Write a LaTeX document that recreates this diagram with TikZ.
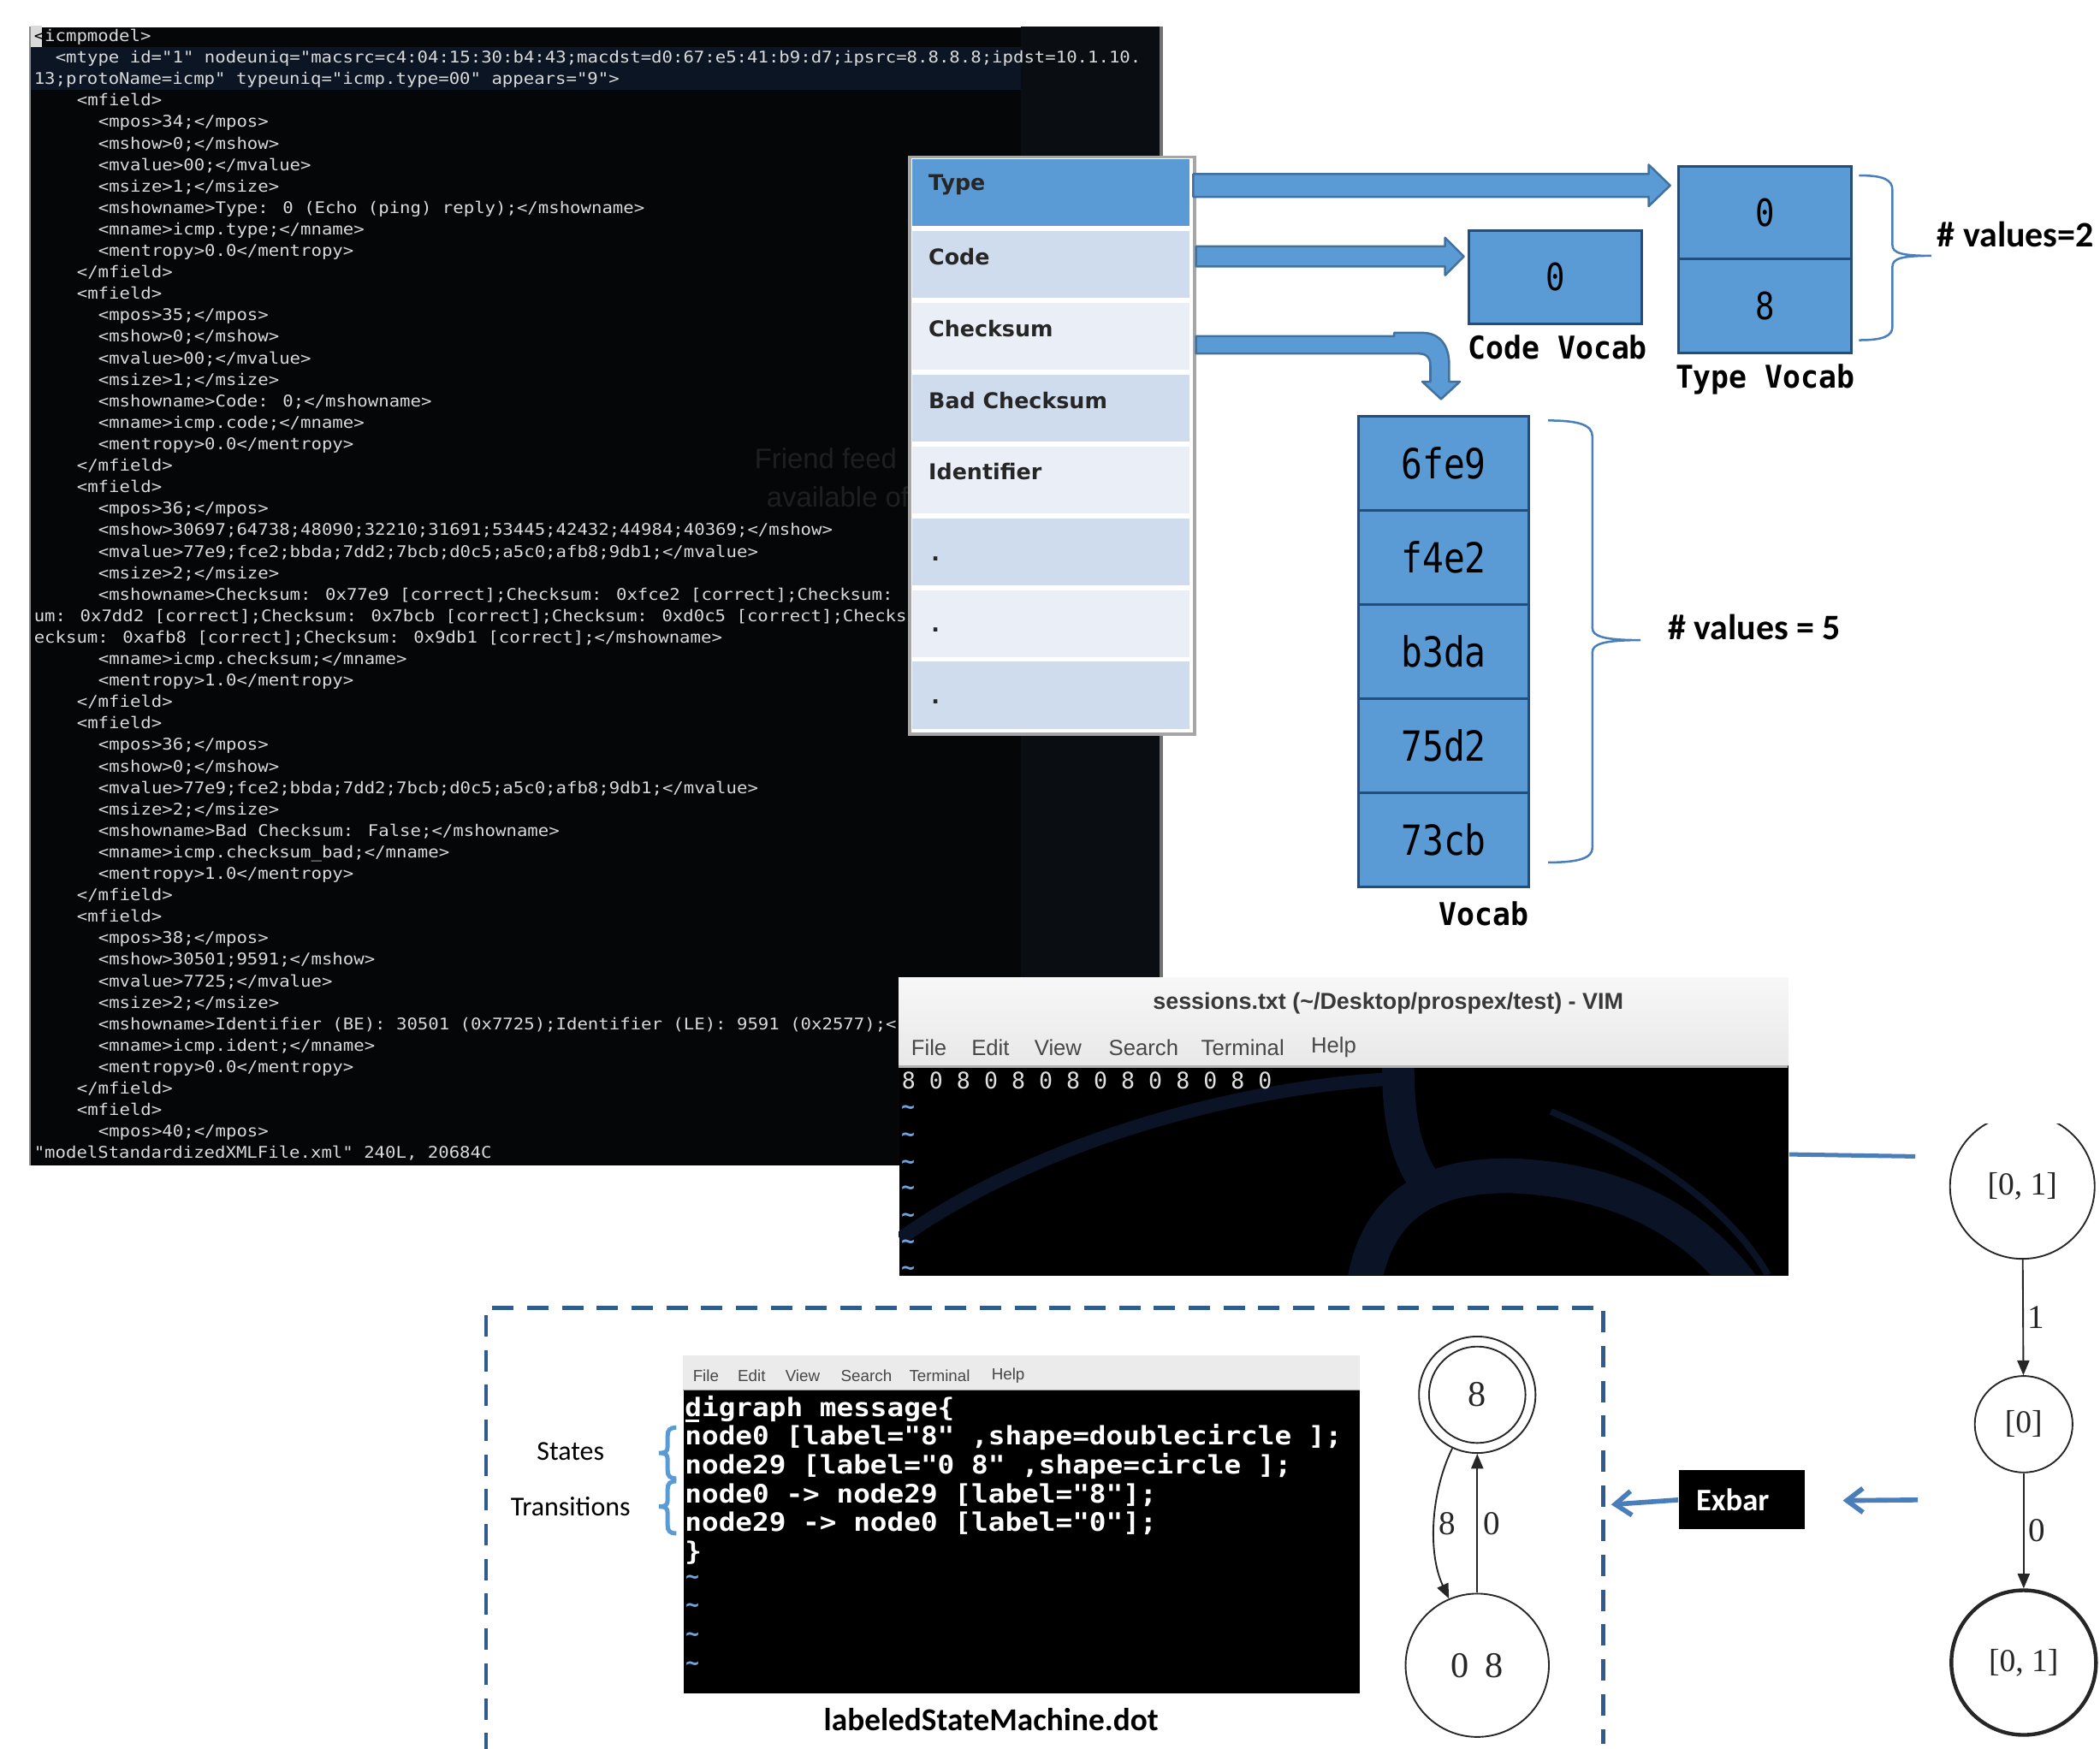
\documentclass[tikz,border=0pt]{standalone}
\usepackage{fontspec}
\usetikzlibrary{arrows.meta,shapes.geometric,calc}
\setmainfont{Liberation Serif}
\newfontfamily\xmlfont{DejaVu Sans Mono}[FakeStretch=1.1]
\newfontfamily\vimfont{DejaVu Sans Mono}
\newfontfamily\cellfont{DejaVu Sans Mono}[FakeStretch=0.85]
\newfontfamily\pixfont{DejaVu Sans Mono}[FakeStretch=0.95]
\newfontfamily\calfont{Carlito}
\newfontfamily\fieldfont{DejaVu Sans}
\newfontfamily\uifont{Liberation Sans}

\definecolor{termbg}{HTML}{050607}
\definecolor{termfg}{HTML}{DADADA}
\definecolor{bandbg}{HTML}{0B1524}
\definecolor{panelbg}{HTML}{0A0D12}
\definecolor{officeblue}{HTML}{5B9BD5}
\definecolor{cellline}{HTML}{254D78}
\definecolor{arrowline}{HTML}{41719C}
\definecolor{bracecol}{HTML}{4A7EBB}
\definecolor{rowlight}{HTML}{CFDCEE}
\definecolor{rowpale}{HTML}{E9EEF7}
\definecolor{dashcol}{HTML}{2F5C8E}
\definecolor{tildecol}{HTML}{6FA3DC}
\definecolor{dragon}{HTML}{0B1426}
\definecolor{graphink}{HTML}{262626}
\definecolor{ghost}{HTML}{1F1F1F}

% one line of the XML listing: line number, indent (characters), text
\newcommand\xmlrow[3]{\node[xmlline] (xml#1) at ({25+8*#2},{31+16.04*(#1-1)}) {#3};}
% one line of the dot listing
\newcommand\dotrow[2]{\node[dotline] (dot#1) at (511,{1057.5+21.5*(#1-1)}) {#2};}
% horizontal block arrow: start, tip, shaft half height, head length, head half height
\newcommand\blockarrowh[5]{%
  \path[blockarrow] ($(#1)+(0,-#3)$) -- ($(#2)+(-#4,-#3)$) -- ($(#2)+(-#4,-#5)$) -- (#2)
    -- ($(#2)+(-#4,#5)$) -- ($(#2)+(-#4,#3)$) -- ($(#1)+(0,#3)$) -- cycle;}

\begin{document}
\begin{tikzpicture}[x=0.5pt,y=-0.5pt,
  xmlline/.style={anchor=base west, inner sep=0pt, text=termfg, font=\xmlfont\fontsize{6pt}{7pt}\selectfont},
  dotline/.style={anchor=base west, inner sep=0pt, text=white, font=\xmlfont\bfseries\fontsize{9.5pt}{10pt}\selectfont},
  vimtilde/.style={inner sep=0pt, text=tildecol, font=\vimfont\bfseries\fontsize{8.5pt}{9pt}\selectfont},
  fieldrow/.style={inner sep=0pt, minimum width=103.5pt, minimum height=25pt},
  fieldlbl/.style={anchor=west, inner sep=0pt, text=black!85, font=\fieldfont\bfseries\fontsize{8.1pt}{9pt}\selectfont},
  vcell/.style={draw=cellline, line width=1pt, fill=officeblue, inner sep=0pt, minimum width=63.5pt, minimum height=35.1pt, font=\cellfont\fontsize{15.5pt}{16pt}\selectfont},
  tcell/.style={vcell, minimum width=64.5pt, minimum height=35pt, font=\cellfont\fontsize{14pt}{14pt}\selectfont},
  vlabel/.style={inner sep=0pt, font=\pixfont\bfseries\fontsize{11.7pt}{12pt}\selectfont},
  blockarrow/.style={fill=officeblue, draw=arrowline, line width=0.8pt, line join=round},
  bracepath/.style={draw=bracecol, line width=0.8pt},
  lbracepath/.style={draw=officeblue, line width=1.6pt},
  countlbl/.style={inner sep=0pt, anchor=west, font=\calfont\bfseries\fontsize{13.4pt}{14pt}\selectfont},
  menuword/.style={anchor=west, inner sep=0pt, text=black!72, font=\uifont\fontsize{8.2pt}{9pt}\selectfont},
  smallmenu/.style={anchor=west, inner sep=0pt, text=black!72, font=\uifont\fontsize{6pt}{7pt}\selectfont},
  smstate/.style={draw=graphink, line width=0.6pt, circle, inner sep=0pt, text=graphink, font=\fontsize{12pt}{12pt}\selectfont},
  smedge/.style={draw=graphink, line width=0.6pt, -{Triangle[length=5.5pt,width=4.5pt]}},
  elabel/.style={inner sep=0pt, text=graphink, font=\fontsize{12.5pt}{12pt}\selectfont},
  bluearrow/.style={draw=bracecol, line width=1.8pt, -{Straight Barb[length=6pt,width=9pt]}},
]
\useasboundingbox (0,0) rectangle (1568,1306);
\fill[white] (0,0) rectangle (1568,1306);

% ---------------- XML model in the terminal ----------------
\node[fill=termbg, inner sep=0pt, minimum width=423pt, minimum height=425pt, anchor=north west] (xmlterm) at (22,20) {};
\fill[panelbg] (762,20) rectangle (868,870);
\fill[bandbg] (22,35) rectangle (762,67);
\draw[black!45, line width=0.8pt] (22.5,20) -- (22.5,870);
\draw[black!55, line width=1.5pt] (867,20) -- (867,730);
\node[anchor=west, inner sep=0pt, text=ghost, font=\uifont\fontsize{10.5pt}{11pt}\selectfont] (ghost1) at (563,342) {Friend feed};
\node[anchor=west, inner sep=0pt, text=ghost, font=\uifont\fontsize{10.5pt}{11pt}\selectfont] (ghost2) at (572,371) {available of};
\fill[termfg] (23,19) rectangle (31,35);
\xmlrow{1}{0}{\textcolor{black}{<}icmpmodel>}
\xmlrow{2}{2}{<mtype id="1" nodeuniq="macsrc=c4:04:15:30:b4:43;macdst=d0:67:e5:41:b9:d7;ipsrc=8.8.8.8;ipdst=10.1.10.}
\xmlrow{3}{0}{13;protoName=icmp" typeuniq="icmp.type=00" appears="9">}
\xmlrow{4}{4}{<mfield>}
\xmlrow{5}{6}{<mpos>34;</mpos>}
\xmlrow{6}{6}{<mshow>0;</mshow>}
\xmlrow{7}{6}{<mvalue>00;</mvalue>}
\xmlrow{8}{6}{<msize>1;</msize>}
\xmlrow{9}{6}{<mshowname>Type: 0 (Echo (ping) reply);</mshowname>}
\xmlrow{10}{6}{<mname>icmp.type;</mname>}
\xmlrow{11}{6}{<mentropy>0.0</mentropy>}
\xmlrow{12}{4}{</mfield>}
\xmlrow{13}{4}{<mfield>}
\xmlrow{14}{6}{<mpos>35;</mpos>}
\xmlrow{15}{6}{<mshow>0;</mshow>}
\xmlrow{16}{6}{<mvalue>00;</mvalue>}
\xmlrow{17}{6}{<msize>1;</msize>}
\xmlrow{18}{6}{<mshowname>Code: 0;</mshowname>}
\xmlrow{19}{6}{<mname>icmp.code;</mname>}
\xmlrow{20}{6}{<mentropy>0.0</mentropy>}
\xmlrow{21}{4}{</mfield>}
\xmlrow{22}{4}{<mfield>}
\xmlrow{23}{6}{<mpos>36;</mpos>}
\xmlrow{24}{6}{<mshow>30697;64738;48090;32210;31691;53445;42432;44984;40369;</mshow>}
\xmlrow{25}{6}{<mvalue>77e9;fce2;bbda;7dd2;7bcb;d0c5;a5c0;afb8;9db1;</mvalue>}
\xmlrow{26}{6}{<msize>2;</msize>}
\xmlrow{27}{6}{<mshowname>Checksum: 0x77e9 [correct];Checksum: 0xfce2 [correct];Checksum: 0}
\xmlrow{28}{0}{um: 0x7dd2 [correct];Checksum: 0x7bcb [correct];Checksum: 0xd0c5 [correct];Checksu}
\xmlrow{29}{0}{ecksum: 0xafb8 [correct];Checksum: 0x9db1 [correct];</mshowname>}
\xmlrow{30}{6}{<mname>icmp.checksum;</mname>}
\xmlrow{31}{6}{<mentropy>1.0</mentropy>}
\xmlrow{32}{4}{</mfield>}
\xmlrow{33}{4}{<mfield>}
\xmlrow{34}{6}{<mpos>36;</mpos>}
\xmlrow{35}{6}{<mshow>0;</mshow>}
\xmlrow{36}{6}{<mvalue>77e9;fce2;bbda;7dd2;7bcb;d0c5;a5c0;afb8;9db1;</mvalue>}
\xmlrow{37}{6}{<msize>2;</msize>}
\xmlrow{38}{6}{<mshowname>Bad Checksum: False;</mshowname>}
\xmlrow{39}{6}{<mname>icmp.checksum\_bad;</mname>}
\xmlrow{40}{6}{<mentropy>1.0</mentropy>}
\xmlrow{41}{4}{</mfield>}
\xmlrow{42}{4}{<mfield>}
\xmlrow{43}{6}{<mpos>38;</mpos>}
\xmlrow{44}{6}{<mshow>30501;9591;</mshow>}
\xmlrow{45}{6}{<mvalue>7725;</mvalue>}
\xmlrow{46}{6}{<msize>2;</msize>}
\xmlrow{47}{6}{<mshowname>Identifier (BE): 30501 (0x7725);Identifier (LE): 9591 (0x2577);<}
\xmlrow{48}{6}{<mname>icmp.ident;</mname>}
\xmlrow{49}{6}{<mentropy>0.0</mentropy>}
\xmlrow{50}{4}{</mfield>}
\xmlrow{51}{4}{<mfield>}
\xmlrow{52}{6}{<mpos>40;</mpos>}
\xmlrow{53}{0}{"modelStandardizedXMLFile.xml" 240L, 20684C}

% ---------------- field table ----------------
\node[draw=black!35, line width=1.2pt, fill=white, inner sep=0pt, minimum width=106.5pt, minimum height=215.5pt, anchor=north west] (fieldtab) at (678,116) {};
\node[fieldrow, fill=officeblue] (r1) at (784.5,144) {};
\node[fieldrow, fill=rowlight]   (r2) at (784.5,197.6) {};
\node[fieldrow, fill=rowpale]    (r3) at (784.5,251.2) {};
\node[fieldrow, fill=rowlight]   (r4) at (784.5,304.8) {};
\node[fieldrow, fill=rowpale]    (r5) at (784.5,358.4) {};
\node[fieldrow, fill=rowlight]   (r6) at (784.5,412) {};
\node[fieldrow, fill=rowpale]    (r7) at (784.5,465.6) {};
\node[fieldrow, fill=rowlight]   (r8) at (784.5,519.2) {};
\node[fieldlbl] (l1) at (693,138) {Type};
\node[fieldlbl] (l2) at (693,191.6) {Code};
\node[fieldlbl] (l3) at (693,245.2) {Checksum};
\node[fieldlbl] (l4) at (693,298.8) {Bad Checksum};
\node[fieldlbl] (l5) at (693,352.4) {Identifier};
\node[fieldlbl] (l6) at (695,417) {.};
\node[fieldlbl] (l7) at (695,470.6) {.};
\node[fieldlbl] (l8) at (695,524.2) {.};

% ---------------- block arrows to the vocabularies ----------------
\coordinate (typeA) at (891,138.5);
\coordinate (typeB) at (1247,138.5);
\blockarrowh{typeA}{typeB}{8.5}{16}{15.5}
\coordinate (codeA) at (893,191.5);
\coordinate (codeB) at (1093,191.5);
\blockarrowh{codeA}{codeB}{7.5}{14}{14}
\coordinate (sumA) at (893,257.5);
\coordinate (sumB) at (1076,298);
\path[blockarrow] ($(sumA)+(0,-6.5)$) -- (1041,251) -- (1041,248.5) -- (1062,248.5)
  .. controls (1075,248.5) and (1082,258) .. (1082,272) -- (1082,285) -- (1090,285) -- (sumB)
  -- (1062,285) -- (1068,285) -- (1068,273) .. controls (1068,267) and (1065,264) .. (1059,264)
  -- ($(sumA)+(0,6.5)$) -- cycle;

% ---------------- vocabularies ----------------
\node[tcell] (cv) at (1161.5,207) {0};
\node[tcell] (tv1) at (1318,159) {0};
\node[tcell] (tv2) at (1318,228.5) {8};
\foreach \v [count=\i] in {6fe9,f4e2,b3da,75d2,73cb}
  \node[vcell] (voc\i) at (1078,{346.1+70.2*(\i-1)}) {\v};
\node[vlabel] (cvl) at (1163,259) {Code Vocab};
\node[vlabel] (tvl) at (1318,283) {Type Vocab};
\node[vlabel] (vl) at (1108,682) {Vocab};

\draw[bracepath] (1388,131) .. controls (1406,131) and (1413,134) .. (1413,142) -- (1413,183)
  .. controls (1413,189) and (1420,191) .. (1442,191) .. controls (1420,191) and (1413,193) .. (1413,199)
  -- (1413,244) .. controls (1413,251) and (1406,254) .. (1388,254);
\draw[bracepath] (1156,314) .. controls (1178,314) and (1189,317) .. (1189,326) -- (1189,469)
  .. controls (1189,475) and (1197,478) .. (1225,478) .. controls (1197,478) and (1189,481) .. (1189,487)
  -- (1189,633) .. controls (1189,641) and (1178,644) .. (1156,644);
\node[countlbl] (nv2) at (1446,175) {\# values=2};
\node[countlbl] (nv5) at (1245,468) {\# values = 5};

% ---------------- vim window with the session sequence ----------------
\node[fill=black, inner sep=0pt, minimum width=332pt, minimum height=111pt, anchor=north west] (vim) at (671,730) {};
\begin{scope}
  \clip (671,797) rectangle (1335,952);
  \draw[dragon, line width=5pt] (672,925) .. controls (760,862) and (900,815) .. (1033,806);
  \draw[dragon, line width=12pt] (1044,797) .. controls (1044,830) and (1048,858) .. (1062,880);
  \draw[dragon, line width=13pt] (1018,962) .. controls (1028,892) and (1078,877) .. (1130,878)
    .. controls (1220,882) and (1272,920) .. (1302,962);
  \draw[dragon, line width=2.5pt] (1158,830) .. controls (1230,860) and (1290,900) .. (1320,952);
\end{scope}
\shade[top color=white!97!black, bottom color=white!91!black] (671,730) rectangle (1335,796);
\draw[black!30, line width=0.8pt] (671,796.5) -- (1335,796.5);
\node[inner sep=0pt, text=black!78, font=\uifont\bfseries\fontsize{8.6pt}{9pt}\selectfont] (vimtitle) at (1036.5,749) {sessions.txt (\textasciitilde/Desktop/prospex/test) - VIM};
\node[menuword] (vm1) at (680,782) {File};
\node[menuword] (vm2) at (725,782) {Edit};
\node[menuword] (vm3) at (772,782) {View};
\node[menuword] (vm4) at (827.5,782) {Search};
\node[menuword] (vm5) at (896.5,782) {Terminal};
\node[menuword] (vm6) at (978.5,782) {Help};
\node[anchor=base west, inner sep=0pt, text=white!88!black, font=\vimfont\fontsize{8.5pt}{9pt}\selectfont] (session) at (673,813) {8 0 8 0 8 0 8 0 8 0 8 0 8 0};
\foreach \y [count=\i] in {828.6,849,869.5,889,909.4,929.4,949}
  \node[vimtilde] (vt\i) at (678,\y) {\textasciitilde};

% link from the session file to the learned automaton
\coordinate (vimR) at (1336,862);
\coordinate (smL) at (1430,863.5);
\draw[bracecol, line width=1.6pt] (vimR) -- (smL);

% ---------------- automaton on the right ----------------
\begin{scope}
  \clip (1440,839) rectangle (1568,1000);
  \node[smstate, minimum size=54pt] (s1) at (1510,886) {[0, 1]};
\end{scope}
\node[smstate, ellipse, minimum width=36.5pt, minimum height=36pt] (s2) at (1511,1063.5) {[0]};
\node[smstate, minimum size=54pt, line width=1.4pt] (s3) at (1511,1241.5) {[0, 1]};
\draw[smedge] (s1) -- node[elabel, right=1.5pt] (e1) {1} (s2);
\draw[smedge] (s2) -- node[elabel, right=1.5pt] (e2) {0} (s3);

% ---------------- Exbar ----------------
\node[fill=black, text=white, anchor=west, inner xsep=6.5pt, inner ysep=0pt, minimum height=22pt, text width=34pt, font=\calfont\bfseries\fontsize{11.7pt}{12pt}\selectfont] (exbar) at (1253,1120) {Exbar};
\coordinate (exR) at (1432,1120);
\coordinate (exRtip) at (1376,1120.5);
\draw[bluearrow] (exR) -- (exRtip);
\coordinate (boxR) at (1203,1123.5);
\draw[bluearrow] (exbar.west) -- (boxR);

% ---------------- labelled state machine (dashed frame) ----------------
\draw[dashcol, line width=1.5pt, dash pattern=on 8pt off 5pt] (363,1310) -- (363,976.5) -- (1197,976.5) -- (1197,1302);

\node[fill=black, inner sep=0pt, minimum width=252.5pt, minimum height=126pt, anchor=north west] (dotterm) at (510,1012) {};
\fill[white!92!black] (510,1012) rectangle (1015,1038);
\draw[black!40, line width=0.6pt] (510,1038) -- (1015,1038);
\node[smallmenu] (dm1) at (517,1027) {File};
\node[smallmenu] (dm2) at (550.5,1027) {Edit};
\node[smallmenu] (dm3) at (586,1027) {View};
\node[smallmenu] (dm4) at (627.5,1027) {Search};
\node[smallmenu] (dm5) at (678.5,1027) {Terminal};
\node[smallmenu] (dm6) at (740,1027) {Help};
\dotrow{1}{digraph message\{}
\dotrow{2}{node0 [label="8" ,shape=doublecircle ];}
\dotrow{3}{node29 [label="0 8" ,shape=circle ];}
\dotrow{4}{node0 -> node29 [label="8"];}
\dotrow{5}{node29 -> node0 [label="0"];}
\dotrow{6}{\}}
\draw[white, line width=0.8pt] (512,1061) -- (522,1061);
\foreach \y [count=\i] in {1179.6,1201,1222.7,1244}
  \node[vimtilde] (dt\i) at (517,\y) {\textasciitilde};

\node[inner sep=0pt, font=\calfont\fontsize{10.2pt}{11pt}\selectfont] (states) at (426,1084) {States};
\node[inner sep=0pt, font=\calfont\fontsize{10.2pt}{11pt}\selectfont] (trans) at (426,1125) {Transitions};
\draw[lbracepath] (505,1066) .. controls (500,1066) and (498.5,1068) .. (498.5,1072) -- (498.5,1080)
  .. controls (498.5,1084) and (497,1085) .. (492,1085) .. controls (497,1085) and (498.5,1086) .. (498.5,1090)
  -- (498.5,1098) .. controls (498.5,1102) and (500,1104) .. (505,1104);
\draw[lbracepath] (505,1106) .. controls (500,1106) and (498.5,1108) .. (498.5,1112) -- (498.5,1120)
  .. controls (498.5,1124) and (497,1125) .. (492,1125) .. controls (497,1125) and (498.5,1126) .. (498.5,1130)
  -- (498.5,1139) .. controls (498.5,1143) and (500,1145) .. (505,1145);
\node[inner sep=0pt, font=\calfont\bfseries\fontsize{11.9pt}{12pt}\selectfont] (dotname) at (740,1284) {labeledStateMachine.dot};

\node[smstate, minimum size=43.5pt] (n0) at (1103,1041.5) {\fontsize{13.5pt}{14pt}\selectfont 8};
\draw[graphink, line width=0.6pt] (n0.center) circle[radius=18pt];
\node[smstate, minimum size=53.5pt] (n29) at (1103,1243.5) {\fontsize{13.5pt}{14pt}\selectfont 0\hspace{0.45em}8};
\draw[smedge] (n0.245) .. controls (1068,1115) and (1066,1160) .. node[elabel, pos=0.5, right=1.5pt] (e3) {8} (n29.113);
\draw[smedge] (n29) -- node[elabel, right=2pt] (e4) {0} (n0);
\end{tikzpicture}
\end{document}
